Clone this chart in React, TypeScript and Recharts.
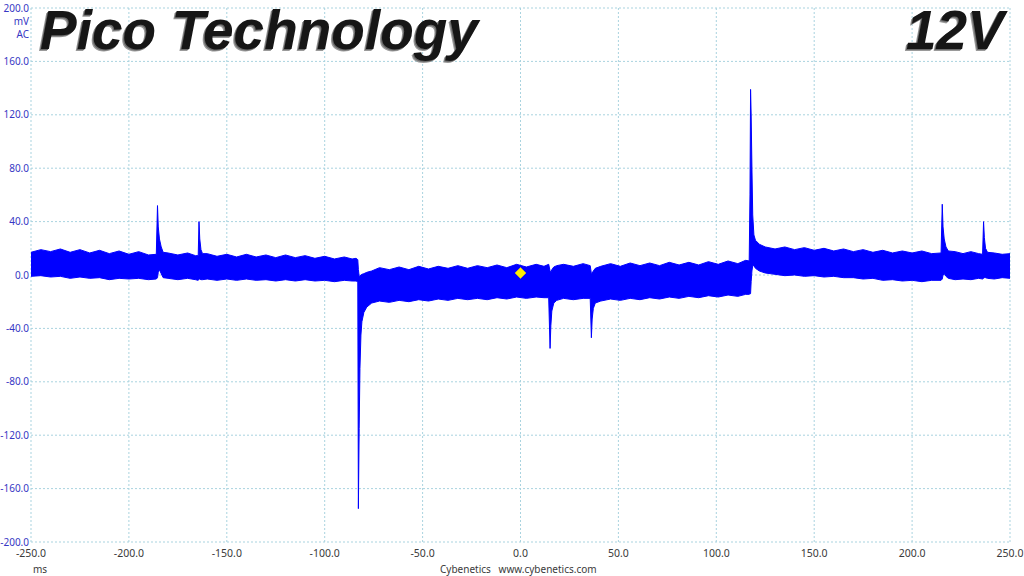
import React from "react";
import {
  ComposedChart,
  Area,
  XAxis,
  YAxis,
  CartesianGrid,
  ReferenceDot,
} from "recharts";

// sample times (ms) with the upper / lower edge of the ripple band (mV)
const times = [
  -250, -245, -240, -235, -230, -225, -220, -215, -210, -205, -200, -195, -190,
  -186, -185.4, -185, -184.4, -183.5, -182.5, -180, -175, -170, -166,
  -164.6, -164.2, -163.8, -163.2, -162.4, -160, -155, -150, -145, -140, -135,
  -130, -125, -120, -115, -110, -105, -100, -95, -90, -86, -84, -83.1,
  -82.8, -82.4, -82, -81.5, -81, -80, -78.5, -76, -72, -67, -62, -57, -52,
  -47, -42, -37, -32, -27, -22, -17, -12, -7, -2, 3, 8, 12, 14.4, 15.1, 15.5,
  16, 17, 18.5, 22, 27, 32, 35.6, 36.2, 36.6, 37.2, 38.2, 41, 46, 51, 56, 61,
  66, 71, 76, 81, 86, 91, 96, 101, 106, 111, 115, 116.8, 117.2, 117.5, 117.8,
  118.2, 118.6, 119.2, 120, 122, 125, 130, 135, 140, 145, 150, 155, 160, 165,
  170, 175, 180, 185, 190, 195, 200, 205, 210, 214.8, 215.4, 215.8, 216.4,
  217.3, 218.5, 222, 226, 230, 234, 236, 236.5, 236.9, 237.5, 238.5, 242, 246,
  250,
];

const upper = [
  17, 19, 17.5, 19.5, 17, 19, 16.5, 18.5, 16, 18, 15.5, 17.5, 15,
  15.5, 52, 36, 27, 21, 17, 16.5, 15, 16.5, 14.5,
  14.5, 40, 27, 19, 16, 16, 14, 15.5, 13.5, 15.5, 13.5,
  15, 13, 15, 13, 14.5, 12.5, 14, 12, 13.5, 12, 12.5, 11.5,
  4, -1, -1, 0, 0.5, 1, 2, 3, 5.5, 4, 6, 4, 6.5,
  4.5, 6.5, 5, 7, 5, 7, 5.5, 7.5, 5.5, 8, 6, 8, 6.5, 8, 3, 2,
  4, 6, 7, 8, 6.5, 8.5, 7, 1, 1.5, 3, 5, 6.5, 8.5, 6.5, 9, 7,
  9, 7, 9.5, 7.5, 9.5, 7.5, 10, 8, 10.5, 8.5, 11, 10.5, 60, 139, 120,
  80, 45, 30, 26, 23, 21, 19.5, 21, 19, 20.5, 18.5, 20, 18, 19.5,
  17.5, 19, 17, 18.5, 16.5, 18, 16.5, 18, 16, 16.5, 53, 36, 27,
  21, 18, 17.5, 16, 17.5, 16, 15.5, 40, 28, 20, 17, 16.5, 15.5,
  16,
];

const lower = [
  -1, -0.5, -1.5, -1, -2.5, -1.5, -2.5, -2, -3.5, -2.5, -3, -2.5, -3.5,
  -3, -2, 2, 4, 1, -2, -2.5, -3.5, -2.5, -3.5,
  -4, -3, -3, -3.5, -3.5, -3, -4, -3, -4, -3, -4,
  -3.5, -4.5, -3.5, -4.5, -3.5, -4.5, -4, -5, -4, -4.5, -4.5, -5,
  -175, -115, -70, -45, -35, -28, -24, -21, -19.5, -20.5, -19, -20, -18.5,
  -19.5, -18, -19, -17.5, -18.5, -17.5, -18.5, -17, -18, -16.5, -17.5, -16.5, -17, -17, -55, -38,
  -27, -21, -19, -17.5, -18.5, -17.5, -17.5, -47, -33, -25, -21, -19.5, -18, -19, -17.5, -18.5,
  -17, -18, -16.5, -17.5, -16, -17, -15.5, -16.5, -15, -16, -14.5, -14.5, -14, -14, -5,
  3, 7, 7, 5, 3, 1.5, 0.5, -0.5, 0, -1, -0.5, -1.5, -1, -2,
  -2, -3, -2.5, -4, -3.5, -4.5, -4, -5, -4, -4, -3, 0, 1,
  -1, -2.5, -3.5, -3, -3.5, -2.5, -3, -2.5, -2, -2, -2.5, -3, -2,
  -2.5,
];

const xTicks = [-250, -200, -150, -100, -50, 0, 50, 100, 150, 200, 250];
const yTicks = [-200, -160, -120, -80, -40, 0, 40, 80, 120, 160, 200];

// trigger marker
const triggerTime = 0;
const triggerLevel = 1.5;

const data = times.map((t, i) => ({ t, band: [lower[i], upper[i]] }));

const labelFont = "'Noto Sans', 'Open Sans', sans-serif";

function Diamond({ cx, cy }: { cx?: number; cy?: number }) {
  if (cx == null || cy == null) return null;
  const r = 5.5;
  return (
    <polygon
      points={`${cx},${cy - r} ${cx + r},${cy} ${cx},${cy + r} ${cx - r},${cy}`}
      fill="#ffee00"
      stroke="#e8d800"
      strokeWidth={0.5}
    />
  );
}

const titleStyle: React.CSSProperties = {
  position: "absolute",
  top: 3,
  fontFamily: "'Liberation Sans', Arial, sans-serif",
  fontWeight: 700,
  fontStyle: "italic",
  fontSize: 55,
  lineHeight: "55px",
  color: "#161616",
  textShadow: "-1px 1px 0 #6a6a6a, -2px 2px 0 #9a9a9a",
  whiteSpace: "nowrap",
};

export default function App() {
  return (
    <div
      style={{
        position: "absolute",
        top: 0,
        left: 0,
        width: 1024,
        height: 576,
        background: "#ffffff",
        overflow: "hidden",
      }}
    >
      <ComposedChart
        width={1024}
        height={576}
        data={data}
        margin={{ top: 8, right: 14, bottom: 14, left: 0 }}
      >
        <CartesianGrid
          stroke="#a9d3df"
          strokeDasharray="2 2"
          horizontalValues={yTicks}
          verticalValues={xTicks}
        />
        <XAxis
          dataKey="t"
          type="number"
          domain={[-250, 250]}
          ticks={xTicks}
          allowDataOverflow
          axisLine={false}
          tickLine={false}
          tickSize={0}
          tickMargin={8}
          height={20}
          interval={0}
          tickFormatter={(v: number) => v.toFixed(1)}
          tick={{ fill: "#3a3a3a", fontSize: 10.5, fontFamily: labelFont }}
        />
        <YAxis
          type="number"
          domain={[-200, 200]}
          ticks={yTicks}
          allowDataOverflow
          axisLine={false}
          tickLine={false}
          tickSize={0}
          tickMargin={2}
          width={31}
          interval={0}
          tickFormatter={(v: number) => v.toFixed(1)}
          tick={{ fill: "#3737c4", fontSize: 10, fontFamily: labelFont }}
        />
        <Area
          type="linear"
          dataKey="band"
          stroke="#0000ff"
          strokeWidth={1}
          fill="#0000ff"
          fillOpacity={1}
          isAnimationActive={false}
          dot={false}
          activeDot={false}
        />
        <ReferenceDot
          x={triggerTime}
          y={triggerLevel}
          shape={<Diamond />}
        />
      </ComposedChart>

      <div style={{ ...titleStyle, left: 40 }}>Pico Technology</div>
      <div style={{ ...titleStyle, left: 906 }}>12V</div>

      <div
        style={{
          position: "absolute",
          top: 15,
          right: 995,
          fontFamily: labelFont,
          fontSize: 10,
          lineHeight: "13px",
          color: "#3737c4",
          textAlign: "right",
        }}
      >
        mV
        <br />
        AC
      </div>
      <div
        style={{
          position: "absolute",
          top: 562,
          left: 33,
          fontFamily: labelFont,
          fontSize: 10,
          color: "#3a3a3a",
        }}
      >
        ms
      </div>
      <div
        style={{
          position: "absolute",
          top: 562,
          left: 440,
          fontFamily: labelFont,
          fontSize: 10,
          color: "#3a3a3a",
          whiteSpace: "pre",
        }}
      >
        {"Cybenetics   www.cybenetics.com"}
      </div>
    </div>
  );
}
